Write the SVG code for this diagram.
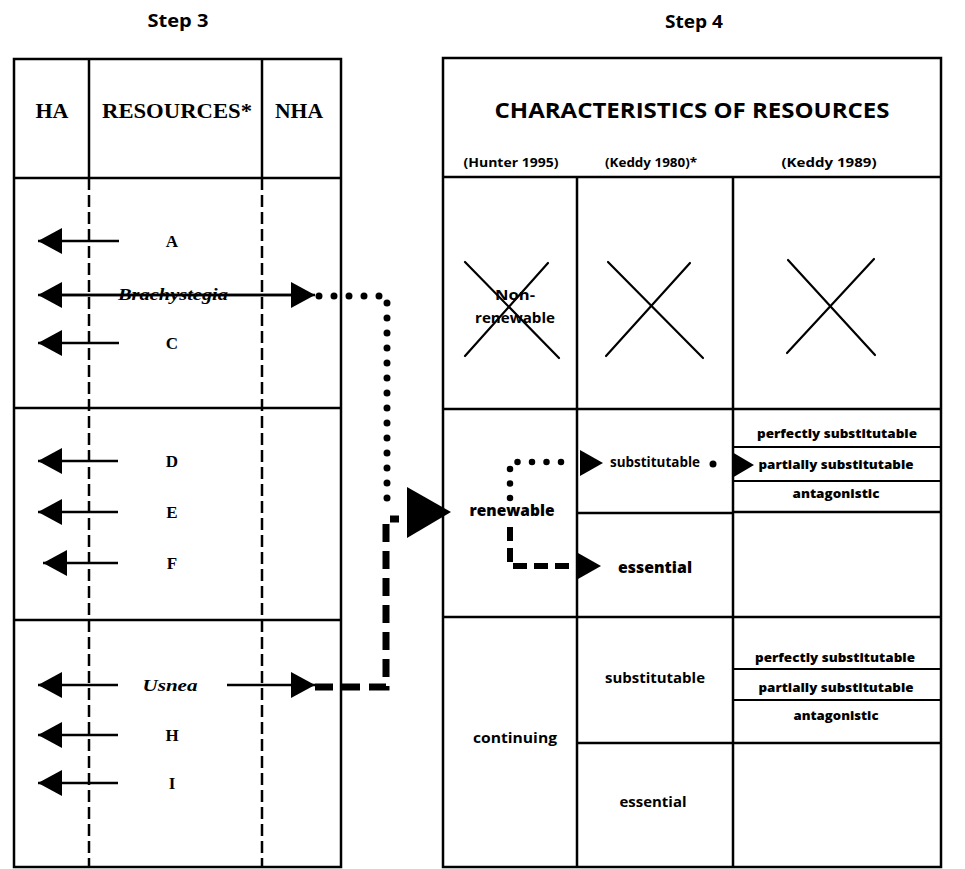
<svg xmlns="http://www.w3.org/2000/svg" width="965" height="869" viewBox="0 0 965 869">
  <style>
    .frame { fill: none; stroke: #000; stroke-width: 2.5; }
    .rule { stroke: #000; stroke-width: 2.5; fill: none; }
    .thin { stroke: #000; stroke-width: 2; fill: none; }
    .guide { stroke: #000; stroke-width: 2.5; stroke-dasharray: 12 5; fill: none; }
    .cross { stroke: #000; stroke-width: 2.2; stroke-linecap: round; }
    .shaft { stroke: #000; stroke-width: 2.5; fill: none; }
    .dots { stroke: #000; stroke-linecap: round; fill: none; }
    .dash { stroke: #000; fill: none; }
    .head { fill: #000; }
    text { fill: #000; text-anchor: middle; }
    .step { font-family: "Open Sans", "Liberation Sans", sans-serif; font-weight: 700; font-size: 17px; }
    .hdr { font-family: "Liberation Serif", serif; font-weight: 700; font-size: 20px; }
    .title { font-family: "Open Sans", "Liberation Sans", sans-serif; font-weight: 700; font-size: 22px; }
    .cite { font-family: "Open Sans", "Liberation Sans", sans-serif; font-weight: 700; font-size: 12px; }
    .res { font-family: "Liberation Serif", serif; font-weight: 700; font-size: 17px; }
    .taxon { font-family: "Liberation Serif", serif; font-weight: 700; font-style: italic; font-size: 16px; }
    .cell { font-family: "Open Sans", "Liberation Sans", sans-serif; font-weight: 700; font-size: 14px; }
    .cellb { font-family: "Open Sans", "Liberation Sans", sans-serif; font-weight: 800; font-size: 15px; }
    .sub { font-family: "Open Sans", "Liberation Sans", sans-serif; font-weight: 800; font-size: 13px; }
  </style>
  <defs>
    <marker id="head" viewBox="0 0 24 26" refX="24" refY="13" markerWidth="24" markerHeight="26" markerUnits="userSpaceOnUse" orient="auto">
      <path d="M0,0 L24,13 L0,26 Z" fill="#000"/>
    </marker>
  </defs>

  <rect width="965" height="869" fill="#fff"/>

  <!-- Step 3: habitat / resource table -->
  <g id="step3">
    <text class="step" x="178" y="27" textLength="61" lengthAdjust="spacingAndGlyphs">Step 3</text>
    <rect class="frame" x="14" y="59" width="327" height="808"/>
    <line class="rule" x1="89" y1="59" x2="89" y2="178"/>
    <line class="rule" x1="262" y1="59" x2="262" y2="178"/>
    <line class="rule" x1="14" y1="178" x2="341" y2="178"/>
    <line class="rule" x1="14" y1="408" x2="341" y2="408"/>
    <line class="rule" x1="14" y1="620" x2="341" y2="620"/>
    <line class="guide" x1="89" y1="178" x2="89" y2="867"/>
    <line class="guide" x1="262" y1="178" x2="262" y2="867"/>
    <text class="hdr" x="52" y="118" textLength="33" lengthAdjust="spacingAndGlyphs">HA</text>
    <text class="hdr" x="177" y="118" textLength="150" lengthAdjust="spacingAndGlyphs">RESOURCES*</text>
    <text class="hdr" x="299" y="118" textLength="48" lengthAdjust="spacingAndGlyphs">NHA</text>
  </g>

  <g id="res-A"><text class="res" x="172" y="247">A</text></g>
  <g id="res-Brachystegia"><text class="taxon" x="173" y="300" textLength="110" lengthAdjust="spacingAndGlyphs">Brachystegia</text></g>
  <g id="res-C"><text class="res" x="172" y="349">C</text></g>
  <g id="res-D"><text class="res" x="172" y="467">D</text></g>
  <g id="res-E"><text class="res" x="172" y="518">E</text></g>
  <g id="res-F"><text class="res" x="172" y="569">F</text></g>
  <g id="res-Usnea"><text class="taxon" x="170" y="691" textLength="55" lengthAdjust="spacingAndGlyphs">Usnea</text></g>
  <g id="res-H"><text class="res" x="172" y="741">H</text></g>
  <g id="res-I"><text class="res" x="172" y="789">I</text></g>

  <!-- Step 4: characteristics table -->
  <g id="step4">
    <text class="step" x="694" y="28" textLength="58" lengthAdjust="spacingAndGlyphs">Step 4</text>
    <rect class="frame" x="443" y="58" width="498" height="809"/>
    <line class="rule" x1="443" y1="177" x2="941" y2="177"/>
    <line class="rule" x1="577" y1="177" x2="577" y2="867"/>
    <line class="rule" x1="733" y1="177" x2="733" y2="867"/>
    <line class="rule" x1="443" y1="409" x2="941" y2="409"/>
    <line class="rule" x1="443" y1="617" x2="941" y2="617"/>
    <text class="title" x="692" y="118" textLength="395" lengthAdjust="spacingAndGlyphs">CHARACTERISTICS OF RESOURCES</text>
    <text class="cite" x="511" y="167" textLength="95" lengthAdjust="spacingAndGlyphs">(Hunter 1995)</text>
    <text class="cite" x="651" y="167" textLength="92" lengthAdjust="spacingAndGlyphs">(Keddy 1980)*</text>
    <text class="cite" x="829" y="167" textLength="95" lengthAdjust="spacingAndGlyphs">(Keddy 1989)</text>
  </g>

  <g id="nonrenewable">
    <line class="cross" x1="465" y1="262" x2="559" y2="358"/>
    <line class="cross" x1="548" y1="263" x2="465" y2="356"/>
    <text class="cell" x="515" y="300" textLength="40" lengthAdjust="spacingAndGlyphs">Non-</text>
    <text class="cell" x="515" y="323" textLength="80" lengthAdjust="spacingAndGlyphs">renewable</text>
  </g>
  <g id="nonrenewable-keddy1980">
    <line class="cross" x1="608" y1="262" x2="703" y2="358"/>
    <line class="cross" x1="690" y1="263" x2="606" y2="356"/>
  </g>
  <g id="nonrenewable-keddy1989">
    <line class="cross" x1="788" y1="260" x2="875" y2="355"/>
    <line class="cross" x1="874" y1="259" x2="787" y2="353"/>
  </g>

  <g id="renewable">
    <text class="cellb" x="512" y="516" textLength="85" lengthAdjust="spacingAndGlyphs">renewable</text>
  </g>
  <g id="renewable-substitutable">
    <line class="rule" x1="577" y1="513" x2="733" y2="513"/>
    <text class="cell" x="655" y="467" textLength="90" lengthAdjust="spacingAndGlyphs">substitutable</text>
  </g>
  <g id="renewable-essential">
    <text class="cellb" x="655" y="573" textLength="74" lengthAdjust="spacingAndGlyphs">essential</text>
  </g>
  <g id="renewable-keddy1989">
    <line class="thin" x1="733" y1="447" x2="941" y2="447"/>
    <line class="thin" x1="733" y1="481" x2="941" y2="481"/>
    <line class="rule" x1="733" y1="512" x2="941" y2="512"/>
    <text class="sub" x="837" y="438" textLength="160" lengthAdjust="spacingAndGlyphs">perfectly substitutable</text>
    <text class="sub" x="836" y="469" textLength="155" lengthAdjust="spacingAndGlyphs">partially substitutable</text>
    <text class="sub" x="836" y="498" textLength="87" lengthAdjust="spacingAndGlyphs">antagonistic</text>
  </g>

  <g id="continuing">
    <text class="cell" x="515" y="743" textLength="84" lengthAdjust="spacingAndGlyphs">continuing</text>
  </g>
  <g id="continuing-substitutable">
    <line class="rule" x1="577" y1="743" x2="733" y2="743"/>
    <text class="cell" x="655" y="683" textLength="100" lengthAdjust="spacingAndGlyphs">substitutable</text>
  </g>
  <g id="continuing-essential">
    <text class="cell" x="653" y="807" textLength="67" lengthAdjust="spacingAndGlyphs">essential</text>
  </g>
  <g id="continuing-keddy1989">
    <line class="thin" x1="733" y1="669" x2="941" y2="669"/>
    <line class="thin" x1="733" y1="700" x2="941" y2="700"/>
    <line class="rule" x1="733" y1="743" x2="941" y2="743"/>
    <text class="sub" x="835" y="662" textLength="160" lengthAdjust="spacingAndGlyphs">perfectly substitutable</text>
    <text class="sub" x="836" y="692" textLength="155" lengthAdjust="spacingAndGlyphs">partially substitutable</text>
    <text class="sub" x="836" y="720" textLength="85" lengthAdjust="spacingAndGlyphs">antagonistic</text>
  </g>

  <!-- connectors -->
  <g id="connectors">
    <!-- habitat-associated arrows pointing to HA -->
    <line class="shaft" x1="119" y1="241" x2="38" y2="241" marker-end="url(#head)"/>
    <line class="shaft" x1="293" y1="295" x2="38" y2="295" marker-end="url(#head)"/>
    <line class="shaft" x1="62" y1="295" x2="315" y2="295" marker-end="url(#head)"/>
    <line class="shaft" x1="119" y1="343" x2="38" y2="343" marker-end="url(#head)"/>
    <line class="shaft" x1="118" y1="461" x2="38" y2="461" marker-end="url(#head)"/>
    <line class="shaft" x1="118" y1="512" x2="38" y2="512" marker-end="url(#head)"/>
    <line class="shaft" x1="118" y1="563" x2="43" y2="563" marker-end="url(#head)"/>
    <line class="shaft" x1="118" y1="685" x2="38" y2="685" marker-end="url(#head)"/>
    <line class="shaft" x1="227" y1="685" x2="315" y2="685" marker-end="url(#head)"/>
    <line class="shaft" x1="118" y1="735" x2="38" y2="735" marker-end="url(#head)"/>
    <line class="shaft" x1="118" y1="783" x2="38" y2="783" marker-end="url(#head)"/>

    <!-- Brachystegia route (dotted) and Usnea route (dashed) into Step 4 -->
    <path class="dots" d="M319,296 H387 V503" stroke-width="7" stroke-dasharray="0 15"/>
    <path class="dash" d="M315,687 H386 V519 H399" stroke-width="7" stroke-dasharray="18 9"/>
    <polygon class="head" points="407,487 451,512 407,538"/>

    <!-- renewable branches -->
    <path class="dots" d="M510,498 V462 H568" stroke-width="6.5" stroke-dasharray="0 14.5"/>
    <polygon class="head" points="580,450 603,463 580,476"/>
    <path class="dash" d="M510,527 V566 H570" stroke-width="6" stroke-dasharray="14 7"/>
    <polygon class="head" points="578,553 601,566 578,579"/>
    <circle cx="713" cy="464" r="3.5" fill="#000"/>
    <polygon class="head" points="732,452 754,465 732,478"/>
  </g>
</svg>
